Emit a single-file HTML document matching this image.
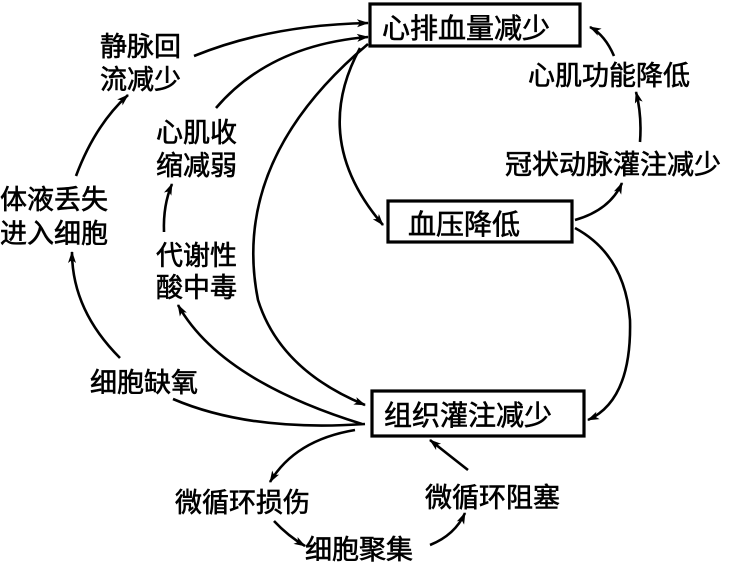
<!DOCTYPE html>
<html><head><meta charset="utf-8"><style>
body{margin:0;background:#fff;}
svg{display:block;}
text{font-family:"Liberation Sans","Noto Sans CJK SC",sans-serif;font-size:27px;fill:#000;stroke:#000;stroke-width:0.6;}
</style></head><body>
<svg width="751" height="567" viewBox="0 0 751 567" xmlns="http://www.w3.org/2000/svg">
<defs><marker id="a" markerWidth="12" markerHeight="10" refX="11" refY="5" orient="auto" markerUnits="userSpaceOnUse"><path d="M0,1 L12,5 L0,9 L3,5z" fill="#000"/></marker></defs>
<g fill="none" stroke="#000" stroke-width="3.2">
<rect x="370" y="4" width="210" height="42"/>
<rect x="388" y="201" width="184" height="41"/>
<rect x="372" y="391" width="212" height="45"/>
</g>
<g fill="none" stroke="#000" stroke-width="2.6" marker-end="url(#a)">
<path d="M194,56 Q270,25 368,23"/>
<path d="M216,108 Q270,45 368,37"/>
<path d="M76,176 Q95,125 128,95"/>
<path d="M120,358 Q72,310 72,252"/>
<path d="M164,232 Q163,205 172,184"/>
<path d="M362,424 Q220,380 178,305"/>
<path d="M368,44 Q230,160 258,300 Q280,370 365,405"/>
<path d="M360,48 Q310,140 383,225"/>
<path d="M575,220 Q610,210 622,183"/>
<path d="M640,142 Q642,115 636,92"/>
<path d="M614,56 Q605,35 590,27"/>
<path d="M575,228 Q625,255 630,320 Q632,400 588,420"/>
<path d="M355,430 Q295,440 270,482"/>
<path d="M468,470 Q445,452 430,440"/>
<path d="M274,521 Q288,536 305,546"/>
<path d="M430,545 Q455,535 465,513"/>
</g>
<path d="M365,424 Q250,432 173,399" fill="none" stroke="#000" stroke-width="2.6"/>
<text x="382" y="38" style="font-size:28px">心排血量减少</text>
<text x="408" y="234" style="font-size:28px">血压降低</text>
<text x="384" y="425" style="font-size:28px">组织灌注减少</text>
<text x="100" y="56">静脉回</text>
<text x="100" y="89">流减少</text>
<text x="156" y="142">心肌收</text>
<text x="156" y="175">缩减弱</text>
<text x="0" y="209">体液丢失</text>
<text x="0" y="243">进入细胞</text>
<text x="156" y="265">代谢性</text>
<text x="156" y="297">酸中毒</text>
<text x="528" y="85">心肌功能降低</text>
<text x="505" y="174">冠状动脉灌注减少</text>
<text x="90" y="392">细胞缺氧</text>
<text x="175" y="512">微循环损伤</text>
<text x="425" y="507">微循环阻塞</text>
<text x="305" y="559">细胞聚集</text>
</svg>
</body></html>
